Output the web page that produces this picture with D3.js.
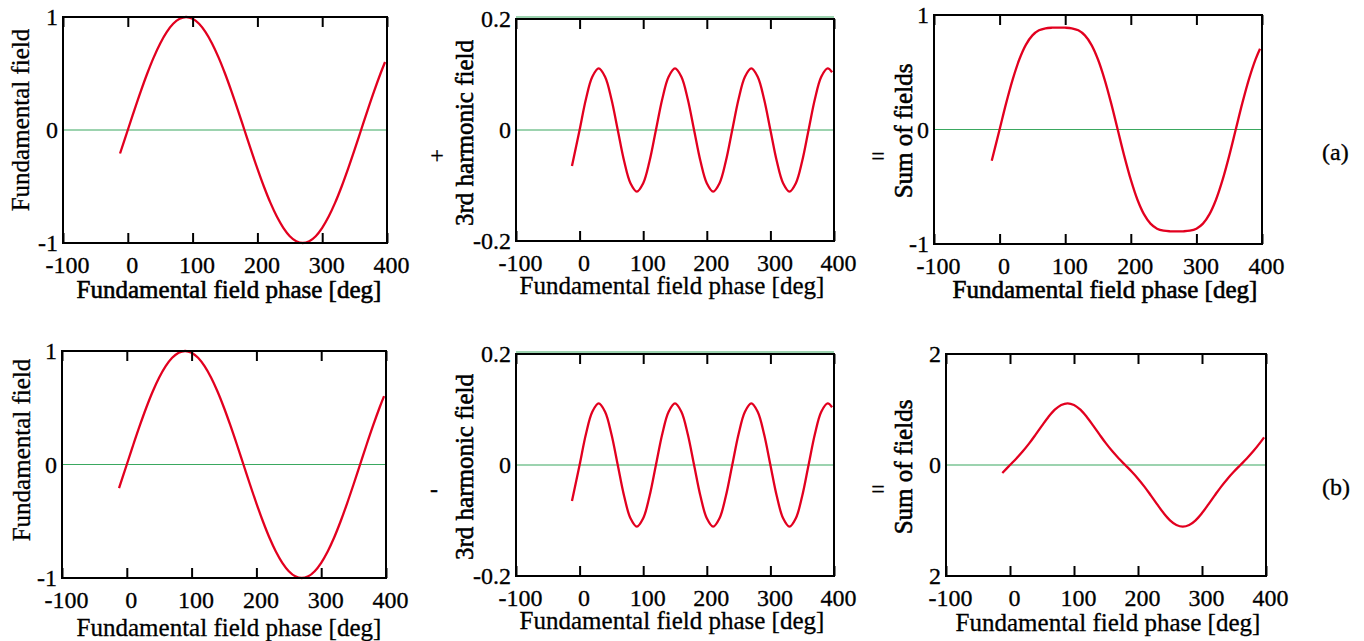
<!DOCTYPE html>
<html>
<head>
<meta charset="utf-8">
<script src="https://cdn.jsdelivr.net/npm/d3@7"></script>
<style>
  body { margin: 0; background: #fff; }
  #chart, #chart text { font-family: "Liberation Serif", "Times New Roman", Times, "DejaVu Serif", serif; fill: #000; }
  #chart text { stroke: #000; stroke-width: 0.3px; }
  #chart text.heavy { stroke-width: 0.6px; }
</style>
</head>
<body>
<svg id="chart" width="1364" height="641"></svg>
<script>
// Phase samples along the curves [deg]
const phase = [-12, 0, 10, 20, 30, 40, 50, 60, 70, 80, 90, 100, 110, 120, 130, 140, 150, 160, 170, 180,
    190, 200, 210, 220, 230, 240, 250, 260, 270, 280, 290, 300, 310, 320, 330, 340, 350, 360, 370, 380, 390, 397];

// Values
const fundamental = [-0.208, 0, 0.174, 0.342, 0.5, 0.643, 0.766, 0.866, 0.94, 0.985, 1, 0.985, 0.94, 0.866, 0.766, 0.643, 0.5, 0.342, 0.174, 0,
    -0.174, -0.342, -0.5, -0.643, -0.766, -0.866, -0.94, -0.985, -1, -0.985, -0.94, -0.866, -0.766, -0.643, -0.5, -0.342, -0.174, 0, 0.174, 0.342, 0.5, 0.602];

const thirdHarmonic = [-0.065, 0, 0.056, 0.096, 0.111, 0.096, 0.056, 0, -0.056, -0.096, -0.111, -0.096, -0.056, 0, 0.056, 0.096, 0.111, 0.096, 0.056, 0,
    -0.056, -0.096, -0.111, -0.096, -0.056, 0, 0.056, 0.096, 0.111, 0.096, 0.056, 0, -0.056, -0.096, -0.111, -0.096, -0.056, 0, 0.056, 0.096, 0.111, 0.104];

const sumPlus = [-0.273, 0, 0.23, 0.438, 0.611, 0.739, 0.822, 0.866, 0.884, 0.889, 0.889, 0.889, 0.884, 0.866, 0.822, 0.739, 0.611, 0.438, 0.23, 0,
    -0.23, -0.438, -0.611, -0.739, -0.822, -0.866, -0.884, -0.889, -0.889, -0.889, -0.884, -0.866, -0.822, -0.739, -0.611, -0.438, -0.23, 0, 0.23, 0.438, 0.611, 0.706];

const sumMinus = [-0.143, 0, 0.118, 0.246, 0.389, 0.547, 0.71, 0.866, 0.996, 1.081, 1.111, 1.081, 0.996, 0.866, 0.71, 0.547, 0.389, 0.246, 0.118, 0,
    -0.118, -0.246, -0.389, -0.547, -0.71, -0.866, -0.996, -1.081, -1.111, -1.081, -0.996, -0.866, -0.71, -0.547, -0.389, -0.246, -0.118, 0, 0.118, 0.246, 0.389, 0.498];

// Tick values and labels
const xTicks = [-100, 0, 100, 200, 300, 400];
const xTickLabels = ["-100", "0", "100", "200", "300", "400"];
const fieldTicks = [-1, 0, 1];
const fieldTickLabels = ["-1", "0", "1"];
const harmonicTicks = [-0.2, 0, 0.2];
const harmonicTickLabels = ["-0.2", "0", "0.2"];
const sumBTicks = [-2, 0, 2];
const sumBTickLabels = ["2", "0", "2"];

const xTitle = "Fundamental field phase [deg]";
const FONT = "'Liberation Serif', 'Times New Roman', Times, 'DejaVu Serif', serif";

// Panel layout: box = [left, top, right, bottom]
const panels = [
    { box: [63, 17, 387, 243], values: fundamental, yDomain: [-1, 1], yTicks: fieldTicks, yLabels: fieldTickLabels,
      yTitle: "Fundamental field", yTitlePos: [29, 120], xTitlePos: [229, 298], guides: [0], heavyX: true, heavyY: false },
    { box: [516, 19, 834, 241], values: thirdHarmonic, yDomain: [-0.2, 0.2], yTicks: harmonicTicks, yLabels: harmonicTickLabels,
      yTitle: "3rd harmonic field", yTitlePos: [473, 133], xTitlePos: [672, 294], guides: [0, 0.2], heavyX: false, heavyY: true },
    { box: [934, 15, 1262, 244], values: sumPlus, yDomain: [-1, 1], yTicks: fieldTicks, yLabels: fieldTickLabels,
      yTitle: "Sum of fields", yTitlePos: [912, 131], xTitlePos: [1105, 298], guides: [0], heavyX: true, heavyY: true },
    { box: [62, 351, 386, 578], values: fundamental, yDomain: [-1, 1], yTicks: fieldTicks, yLabels: fieldTickLabels,
      yTitle: "Fundamental field", yTitlePos: [30, 450], xTitlePos: [229, 636], guides: [0], heavyX: false, heavyY: false },
    { box: [516, 354, 834, 576], values: thirdHarmonic, yDomain: [-0.2, 0.2], yTicks: harmonicTicks, yLabels: harmonicTickLabels,
      yTitle: "3rd harmonic field", yTitlePos: [473, 467], xTitlePos: [672, 629], guides: [0, 0.2], heavyX: false, heavyY: true },
    { box: [946, 354, 1266, 576], values: sumMinus, yDomain: [-2, 2], yTicks: sumBTicks, yLabels: sumBTickLabels,
      yTitle: "Sum of fields", yTitlePos: [912, 467], xTitlePos: [1108, 631], guides: [0], heavyX: false, heavyY: true }
];

const svg = d3.select("#chart").attr("font-family", FONT);

panels.forEach(function(p) {
    const [x0, y0, x1, y1] = p.box;
    const x = d3.scaleLinear().domain([-100, 400]).range([x0, x1]);
    const y = d3.scaleLinear().domain(p.yDomain).range([y1, y0]);
    const g = svg.append("g");

    // green reference lines (the top one sits just above the frame)
    g.selectAll("line.guide")
        .data(p.guides)
        .enter().append("line")
        .attr("class", "guide")
        .attr("x1", x0).attr("x2", x1)
        .attr("y1", d => y(d) - (d === 0 ? 0 : 2))
        .attr("y2", d => y(d) - (d === 0 ? 0 : 2))
        .attr("stroke", "#3aa860")
        .attr("stroke-width", 1.2);

    // the curve
    const line = d3.line()
        .x((d, i) => x(phase[i]))
        .y(d => y(d))
        .curve(d3.curveCatmullRom.alpha(0.5));

    g.append("path")
        .datum(p.values)
        .attr("d", line)
        .attr("fill", "none")
        .attr("stroke", "#e2001f")
        .attr("stroke-width", 2.3);

    // frame
    g.append("rect")
        .attr("x", x0).attr("y", y0)
        .attr("width", x1 - x0).attr("height", y1 - y0)
        .attr("fill", "none")
        .attr("stroke", "#000")
        .attr("stroke-width", 2);

    // x axes: ticks pointing in, labels only at the bottom
    const xb = g.append("g")
        .attr("transform", "translate(0," + y1 + ")")
        .call(d3.axisBottom(x).tickValues(xTicks).tickFormat((d, i) => xTickLabels[i]).tickSize(-10).tickPadding(13));
    const xt = g.append("g")
        .attr("transform", "translate(0," + y0 + ")")
        .call(d3.axisTop(x).tickValues(xTicks).tickFormat("").tickSize(-10));

    [xb, xt].forEach(function(a) {
        a.select(".domain").remove();
        a.attr("font-family", FONT).attr("font-size", 24);
        a.selectAll(".tick line").attr("stroke", "#000").attr("stroke-width", 2);
    });
    xb.selectAll(".tick text").attr("dx", 4);

    // y axis labels
    const ya = g.append("g")
        .attr("transform", "translate(" + x0 + ",0)")
        .call(d3.axisLeft(y).tickValues(p.yTicks).tickFormat((d, i) => p.yLabels[i]).tickSize(0).tickPadding(5));
    ya.select(".domain").remove();
    ya.attr("font-family", FONT).attr("font-size", 24);

    // axis titles
    g.append("text")
        .attr("class", p.heavyX ? "heavy" : null)
        .attr("x", p.xTitlePos[0])
        .attr("y", p.xTitlePos[1])
        .attr("text-anchor", "middle")
        .attr("font-size", 25)
        .text(xTitle);

    g.append("text")
        .attr("class", p.heavyY ? "heavy" : null)
        .attr("transform", "translate(" + p.yTitlePos[0] + "," + p.yTitlePos[1] + ") rotate(-90)")
        .attr("text-anchor", "middle")
        .attr("font-size", 25)
        .text(p.yTitle);
});

// operators between panels and row tags
const notes = [
    { text: "+", x: 437, y: 163, anchor: "middle" },
    { text: "=", x: 878, y: 164, anchor: "middle" },
    { text: "(a)", x: 1322, y: 160, anchor: "start" },
    { text: "-", x: 434, y: 497, anchor: "middle" },
    { text: "=", x: 878, y: 497, anchor: "middle" },
    { text: "(b)", x: 1322, y: 495, anchor: "start" }
];

svg.selectAll("text.note")
    .data(notes)
    .enter().append("text")
    .attr("class", "note")
    .attr("x", d => d.x)
    .attr("y", d => d.y)
    .attr("text-anchor", d => d.anchor)
    .attr("font-size", 24)
    .text(d => d.text);
</script>
</body>
</html>
